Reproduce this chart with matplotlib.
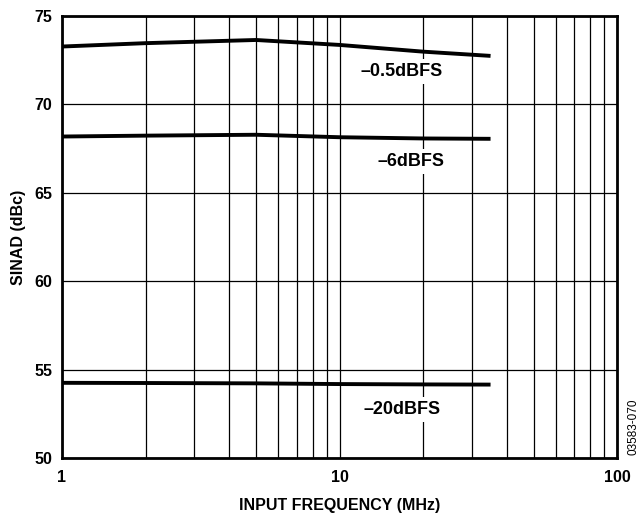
import matplotlib
matplotlib.use("Agg")
import matplotlib.pyplot as plt
from matplotlib.ticker import FixedLocator, NullFormatter

plt.rcParams['font.family'] = ['Liberation Sans', 'DejaVu Sans']
plt.rcParams['font.weight'] = 'bold'

freq = [1, 2, 5, 10, 20, 35]
sinad_05 = [73.27, 73.46, 73.64, 73.36, 72.98, 72.74]
sinad_6 = [68.18, 68.23, 68.28, 68.14, 68.07, 68.05]
sinad_20 = [54.25, 54.24, 54.22, 54.18, 54.16, 54.15]

labels = ['\u20130.5dBFS', '\u20136dBFS', '\u201320dBFS']
label_pos = [(16.8, 71.84), (18.1, 66.75), (16.8, 52.74)]

fig = plt.figure(figsize=(6.41, 5.14), dpi=100)
ax = fig.add_axes([0.0967, 0.109, 0.866, 0.86])

ax.set_xscale('log')
ax.set_xlim(1, 100)
ax.set_ylim(50, 75)

ax.xaxis.set_major_locator(FixedLocator([1, 10, 100]))
ax.xaxis.set_minor_locator(FixedLocator([k * d for d in (1, 10) for k in range(2, 10)]))
ax.xaxis.set_minor_formatter(NullFormatter())
ax.set_xticks([1, 10, 100])
ax.set_xticklabels(['1', '10', '100'])
ax.set_yticks([50, 55, 60, 65, 70, 75])

ax.grid(True, which='both', axis='x', color='black', lw=0.9)
ax.grid(True, which='major', axis='y', color='black', lw=0.9)
ax.tick_params(which='both', length=0, labelsize=11.5)
ax.tick_params(axis='x', pad=9)
ax.tick_params(axis='y', pad=7)
for lbl in ax.get_xticklabels() + ax.get_yticklabels():
    lbl.set_fontweight('bold')

for s in ax.spines.values():
    s.set_linewidth(2)

for ys in (sinad_05, sinad_6, sinad_20):
    ax.plot(freq, ys, color='black', lw=2.8, solid_capstyle='butt', zorder=3)

for txt, (x, y) in zip(labels, label_pos):
    ax.text(x, y, txt, ha='center', va='center', fontsize=13, fontweight='bold',
            bbox=dict(facecolor='white', edgecolor='none', pad=3), zorder=4)

ax.set_xlabel('INPUT FREQUENCY (MHz)', fontsize=11.5, fontweight='bold', labelpad=9)
ax.set_ylabel('SINAD (dBc)', fontsize=11.5, fontweight='bold', labelpad=6)

fig.text(0.988, 0.115, '03583-070', rotation=90, fontsize=8.5, fontweight='normal',
         ha='center', va='bottom')

fig.savefig('out.png', dpi=100)
